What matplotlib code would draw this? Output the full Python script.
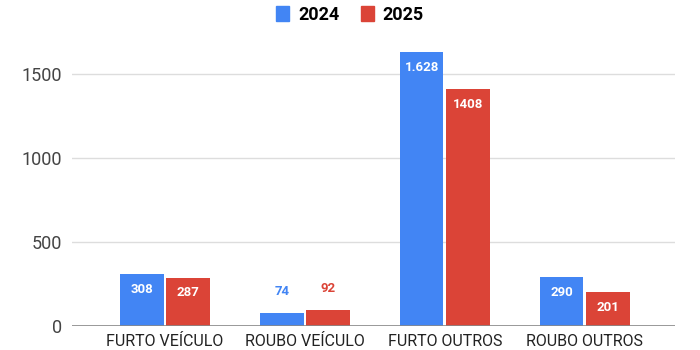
import numpy as np
import matplotlib.pyplot as plt
from matplotlib.patches import Patch

plt.rcParams['font.family'] = ['Roboto', 'DejaVu Sans']

categories = ['FURTO VEÍCULO', 'ROUBO VEÍCULO', 'FURTO OUTROS', 'ROUBO OUTROS']
vals_2024 = [308, 74, 1628, 290]
vals_2025 = [287, 92, 1408, 201]
labels_2024 = ['308', '74', '1.628', '290']
labels_2025 = ['287', '92', '1408', '201']
y_ticks = [0, 500, 1000, 1500]

BLUE = '#4285F4'
RED = '#DB4437'

fig = plt.figure(figsize=(7, 3.5), dpi=100)
ax = fig.add_axes([0.103, 0.069, 0.861, 0.817])

x = np.arange(len(categories))
w = 0.31
off = 0.165

b1 = ax.bar(x - off, vals_2024, w, color=BLUE, zorder=3)
b2 = ax.bar(x + off, vals_2025, w, color=RED, zorder=3)


def add_labels(bars, values, texts, color):
    # big bars get a white label inside, short ones a coloured label above
    for bar, v, t in zip(bars, values, texts):
        cx = bar.get_x() + bar.get_width() / 2
        if v > 150:
            ax.annotate(t, (cx, v), xytext=(0, -11), textcoords='offset points',
                        ha='center', va='center', color='white',
                        fontsize=9.5, fontweight='bold', zorder=4)
        else:
            ax.annotate(t, (cx, v), xytext=(0, 16), textcoords='offset points',
                        ha='center', va='center', color=color,
                        fontsize=9.5, fontweight='bold', zorder=4)


add_labels(b1, vals_2024, labels_2024, BLUE)
add_labels(b2, vals_2025, labels_2025, RED)

ax.set_xlim(-0.664, 3.643)
ax.set_ylim(0, 1700)
ax.set_yticks(y_ticks)
ax.set_xticks(x)
ax.set_xticklabels(categories, fontsize=11.5, color='#222222')
ax.tick_params(axis='y', labelsize=13, colors='#444444', length=0, pad=7)
ax.tick_params(axis='x', length=0, pad=6)

for yv in y_ticks[1:]:
    ax.axhline(yv, color='#dddddd', linewidth=1, zorder=1)
ax.axhline(0, color='#888888', linewidth=1.2, zorder=4)

for s in ax.spines.values():
    s.set_visible(False)

handles = [Patch(color=BLUE), Patch(color=RED)]
fig.legend(handles, ['2024', '2025'], loc='center', bbox_to_anchor=(0.5, 0.957),
           ncol=2, frameon=False, prop={'weight': 'bold', 'size': 13},
           handlelength=0.7, handleheight=0.9, handletextpad=0.5, columnspacing=1.2)

fig.savefig('out.png', dpi=100, facecolor='white')
